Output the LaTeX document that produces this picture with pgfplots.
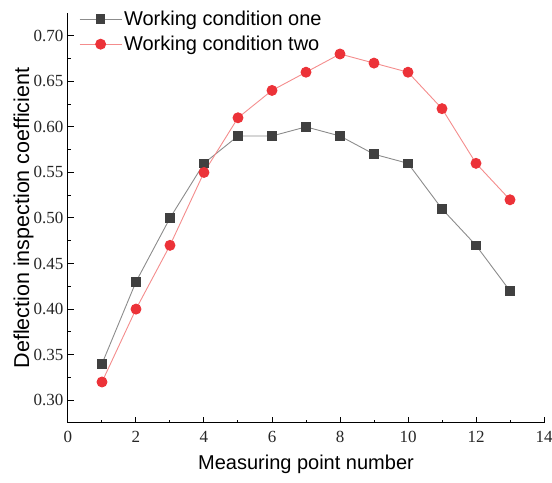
\documentclass[border=0pt]{standalone}
\usepackage{pgfplots}
\pgfplotsset{compat=1.18}
\usepackage{fontspec}
\setmainfont{Liberation Serif}
\setsansfont{Liberation Sans}
\definecolor{lgray}{RGB}{140,140,140}
\definecolor{dgray}{RGB}{64,64,64}
\definecolor{lred}{RGB}{244,140,140}
\definecolor{dred}{RGB}{236,50,56}
\begin{document}
\begin{tikzpicture}
\begin{axis}[
  scale only axis,
  width=476pt, height=410pt,
  xmin=0, xmax=14, ymin=0.275, ymax=0.725,
  xtick={0,2,...,14},
  ytick={0.30,0.35,...,0.71},
  minor x tick num=1, minor y tick num=1,
  axis x line*=bottom, axis y line*=left,
  axis line style={-, line width=1pt},
  tick style={line width=1pt, black},
  tick align=inside,
  major tick length=6pt, minor tick length=3pt,
  /pgf/number format/assume math mode=true,
  /pgf/number format/fixed,
  ticklabel style={font=\rmfamily\fontsize{17}{19}\selectfont, text=black!85},
  xticklabel style={yshift=-5pt},
  yticklabel style={xshift=-1pt, /pgf/number format/fixed zerofill, /pgf/number format/precision=2},
  xlabel={Measuring point number},
  ylabel={Deflection inspection coefficient},
  every axis x label/.style={at={([yshift=-28pt]axis description cs:0.5,0)}, anchor=north,
    font=\sffamily\fontsize{20}{24}\selectfont},
  every axis y label/.style={at={([xshift=-31pt]axis description cs:0,0.5)}, rotate=90, anchor=south,
    font=\sffamily\fontsize{21.5}{24}\selectfont},
  legend style={draw=none, fill=none, at={(axis description cs:0,1)}, anchor=north west,
    xshift=8pt, yshift=6pt,
    font=\sffamily\fontsize{20}{22}\selectfont, row sep=5pt},
  legend cell align=left,
  legend image code/.code={\draw[mark repeat=2, mark phase=2, #1] plot coordinates {(0pt,0pt) (21pt,0pt) (42pt,0pt)};},
]
\addplot[color=lgray, line width=0.9pt, mark=square*, mark size=4.3pt, mark options={draw=dgray, fill=dgray}] coordinates {
(1,0.34) (2,0.43) (3,0.50) (4,0.56) (5,0.59) (6,0.59) (7,0.60) (8,0.59) (9,0.57) (10,0.56) (11,0.51) (12,0.47) (13,0.42)};
\addlegendentry{Working condition one}
\addplot[color=lred, line width=0.9pt, mark=*, mark size=5pt, mark options={draw=dred, fill=dred}] coordinates {
(1,0.32) (2,0.40) (3,0.47) (4,0.55) (5,0.61) (6,0.64) (7,0.66) (8,0.68) (9,0.67) (10,0.66) (11,0.62) (12,0.56) (13,0.52)};
\addlegendentry{Working condition two}
\coordinate (bl) at (rel axis cs:0,0);
\coordinate (tr) at (rel axis cs:1,1);
\end{axis}
\pgfresetboundingbox
\path ([shift={(-68pt,-60pt)}]bl) rectangle ([shift={(8pt,13pt)}]tr);
\end{tikzpicture}
\end{document}
